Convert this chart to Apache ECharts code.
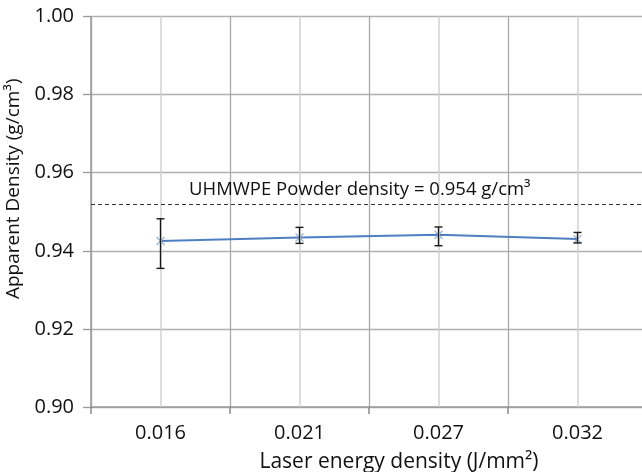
<!DOCTYPE html>
<html>
<head>
<meta charset="utf-8">
<script src="https://cdn.jsdelivr.net/npm/echarts@6/dist/echarts.min.js"></script>
<style>html,body{margin:0;padding:0;background:#fff}#c{width:642px;height:472px}</style>
</head>
<body>
<div id="c"></div>
<script>
var categories = ['0.016', '0.021', '0.027', '0.032'];
var density = [0.9425, 0.9434, 0.9441, 0.9430];
var errLow = [0.9355, 0.9419, 0.9413, 0.9420];
var errHigh = [0.9482, 0.9460, 0.9461, 0.9447];
var powderLine = 0.952;
var powderLabel = 'UHMWPE Powder density = 0.954 g/cm³';
var yTicks = { min: 0.90, max: 1.00, interval: 0.02 };

var FONT = '"Open Sans", "Noto Sans", sans-serif';
var chart = echarts.init(document.getElementById('c'), null, { renderer: 'canvas' });

var errData = categories.map(function (c, i) { return [i, errLow[i], errHigh[i]]; });

chart.setOption({
  animation: false,
  backgroundColor: '#fff',
  grid: { left: 91, top: 16.5, right: -5, bottom: 65, containLabel: false, outerBoundsMode: 'none' },
  xAxis: {
    type: 'category',
    data: categories,
    boundaryGap: true,
    name: 'Laser energy density (J/mm²)',
    nameLocation: 'middle',
    nameGap: 45,
    nameTextStyle: { fontFamily: FONT, fontSize: 21, color: '#111', padding: [0, 0, 0, 60] },
    axisLine: { show: true, lineStyle: { color: '#9a9a9a', width: 1.5 } },
    axisTick: { show: true, length: 7, lineStyle: { color: '#8a8a8a', width: 1.5 } },
    axisLabel: { fontFamily: FONT, fontSize: 20, color: '#111', margin: 16 },
    splitLine: { show: true, lineStyle: { color: '#a8a8a8', width: 1.3 } }
  },
  yAxis: {
    type: 'value',
    min: yTicks.min, max: yTicks.max, interval: yTicks.interval,
    name: 'Apparent Density (g/cm³)',
    nameLocation: 'middle',
    nameGap: 62,
    nameTextStyle: { fontFamily: FONT, fontSize: 19, color: '#111', padding: [0, 0, 0, 46] },
    axisLine: { show: true, lineStyle: { color: '#9a9a9a', width: 1.5 } },
    axisTick: { show: true, length: 8, lineStyle: { color: '#9a9a9a', width: 1.3 } },
    axisLabel: { fontFamily: FONT, fontSize: 20, color: '#111', margin: 17,
      formatter: function (v) { return v.toFixed(2); } },
    splitLine: { show: true, lineStyle: { color: '#b0b0b0', width: 1.3 } }
  },
  series: [
    {
      type: 'line',
      data: density,
      z: 3,
      lineStyle: { color: '#4f7fc0', width: 2 },
      symbol: 'path://M0,0L10,10M10,0L0,10',
      symbolSize: 8,
      itemStyle: { color: 'rgba(0,0,0,0)', borderColor: '#9ab0d8', borderWidth: 1.2 },
      markLine: {
        silent: true,
        symbol: 'none',
        animation: false,
        precision: 4,
        lineStyle: { color: '#d2d2d2', width: 1.5, type: 'solid' },
        label: { show: false },
        data: [
          { xAxis: '0.016' }, { xAxis: '0.021' }, { xAxis: '0.027' }, { xAxis: '0.032' },
          {
            yAxis: powderLine,
            lineStyle: { color: '#333', width: 1, type: [4, 3] },
            label: {
              show: true,
              position: 'insideStartTop',
              distance: [98, 5],
              formatter: powderLabel,
              fontFamily: FONT, fontSize: 18.5, color: '#111'
            }
          }
        ]
      }
    },
    {
      type: 'custom',
      z: 5,
      data: errData,
      renderItem: function (params, api) {
        var x = api.value(0);
        var lo = api.coord([x, api.value(1)]);
        var hi = api.coord([x, api.value(2)]);
        var w = 4;
        var st = { stroke: '#1a1a1a', lineWidth: 1.4 };
        return {
          type: 'group',
          children: [
            { type: 'line', shape: { x1: hi[0], y1: hi[1], x2: lo[0], y2: lo[1] }, style: st },
            { type: 'line', shape: { x1: hi[0] - w, y1: hi[1], x2: hi[0] + w, y2: hi[1] }, style: st },
            { type: 'line', shape: { x1: lo[0] - w, y1: lo[1], x2: lo[0] + w, y2: lo[1] }, style: st }
          ]
        };
      }
    }
  ]
});
</script>
</body>
</html>
